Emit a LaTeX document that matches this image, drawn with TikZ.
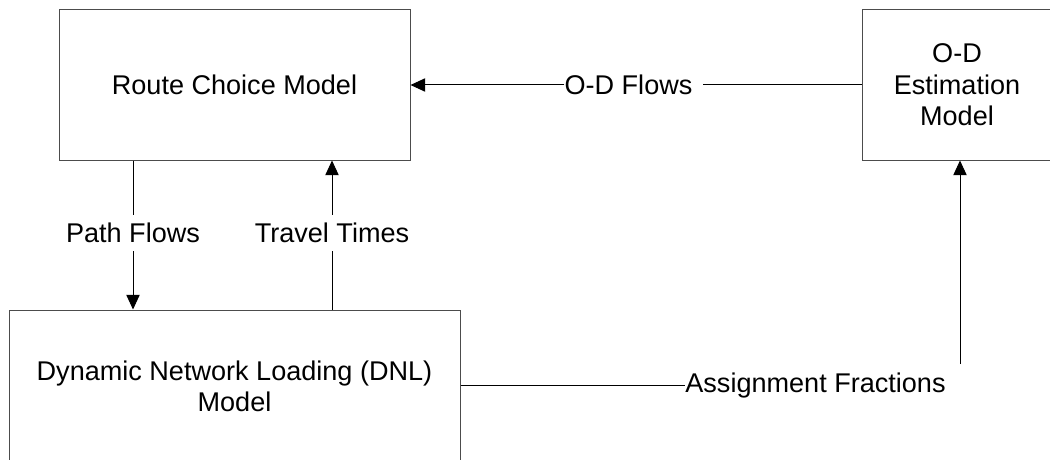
\documentclass[tikz,border=0pt]{standalone}
\usepackage{fontspec}
\setmainfont{Liberation Sans}
\usepackage{tikz}
\usetikzlibrary{arrows.meta,calc,positioning}
\tikzset{
  box/.style={draw=black!70,line width=0.75pt,align=center,
    minimum height=112.5pt,inner sep=0pt},
  lbl/.style={fill=white,inner xsep=0pt,inner ysep=6pt},
  wire/.style={line width=0.75pt},
  every node/.style={font=\fontsize{20.3}{23.5}\selectfont}
}
\tikzstyle{arrow} = [line width=0.75pt,-{Triangle[length=11pt,width=10pt]}]

\begin{document}
\begin{tikzpicture}[x=0.75pt,y=-0.75pt]
  \useasboundingbox (0,0) rectangle (1050,460);
  \node[box,minimum width=263.25pt] (route) at (234.5,85) {Route Choice Model};
  \node[box,minimum width=142.5pt] (od) at (957,85) {O-D\\Estimation\\Model};
  \node[box,minimum width=338.25pt,minimum height=114pt] (dnl) at (234.5,386) {Dynamic Network Loading (DNL)\\Model};
  \node[lbl] (odflow) at (628.5,85) {O-D Flows};
  \node[lbl] (pathflow) at (133,233) {Path Flows};
  \node[lbl] (traveltime) at (332,233) {Travel Times};
  \node[lbl] (assign) at (815.5,385) {Assignment Fractions};
  \coordinate (afup) at (960,364);
  \draw[wire] (od.west) -- ([xshift=8pt]odflow.east);
  \draw[arrow] (odflow.west) -- (route.east);
  \draw[wire] (route.south -| pathflow) -- (pathflow.north);
  \draw[arrow] (pathflow.south) -- (dnl.north -| pathflow);
  \draw[wire] (dnl.north -| traveltime) -- (traveltime.south);
  \draw[arrow] (traveltime.north) -- (route.south -| traveltime);
  \draw[wire] (dnl.east |- assign) -- (assign.west);
  \draw[arrow] (afup) -- (afup |- od.south);
\end{tikzpicture}
\end{document}
